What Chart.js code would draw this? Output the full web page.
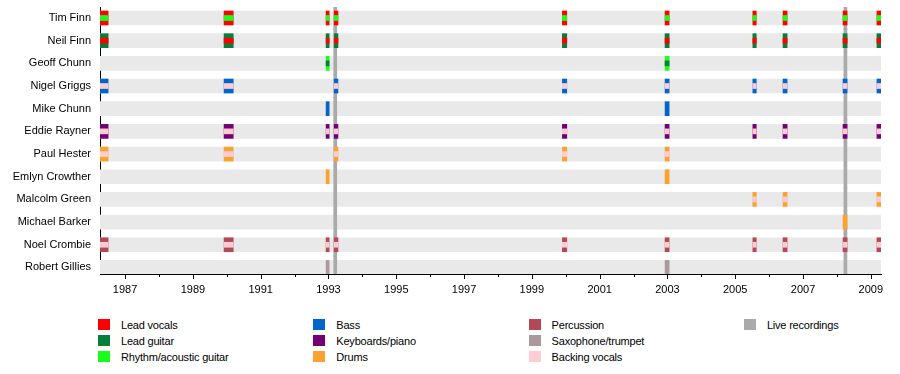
<!DOCTYPE html>
<html>
<head>
<meta charset="utf-8">
<script src="https://cdn.jsdelivr.net/npm/chart.js@4.4.0/dist/chart.umd.min.js"></script>
<style>
  body { margin: 0; background: #fff; font-family: "Liberation Sans", Arial, sans-serif; }
  #wrap { position: relative; width: 900px; height: 374px; }
  #legend .item { position: absolute; font-size: 11px; color: #000; height: 12px; line-height: 12px; white-space: nowrap; }
  #legend .swatch { position: absolute; left: 0; top: 0; width: 12px; height: 11px; }
  #legend .label { position: absolute; left: 23px; top: 0; letter-spacing: -0.2px; }
</style>
</head>
<body>
<div id="wrap">
  <canvas id="timeline" width="900" height="300"></canvas>
  <div id="legend"></div>
</div>
<script>
const members = ['Tim Finn', 'Neil Finn', 'Geoff Chunn', 'Nigel Griggs', 'Mike Chunn', 'Eddie Rayner',
  'Paul Hester', 'Emlyn Crowther', 'Malcolm Green', 'Michael Barker', 'Noel Crombie', 'Robert Gillies'];
const mainRole = ['Lead vocals', 'Lead guitar', 'Rhythm/acoustic guitar', 'Bass', 'Bass', 'Keyboards/piano',
  'Drums', 'Drums', 'Drums', 'Drums', 'Percussion', 'Saxophone/trumpet'];
const extraRole = ['Rhythm/acoustic guitar', 'Lead vocals', 'Lead guitar', 'Backing vocals', null, 'Backing vocals',
  'Backing vocals', null, 'Backing vocals', null, 'Backing vocals', null];

// reunion shows / tours
const periodStart = [1986.26, 1989.92, 1992.93, 1993.17, 1999.90, 2002.93, 2005.52, 2006.41, 2008.18, 2009.18];
const periodEnd   = [1986.50, 1990.19, 1993.02, 1993.28, 2000.03, 2003.05, 2005.62, 2006.53, 2008.30, 2009.30];
const lineups = [
  ['Tim Finn', 'Neil Finn', 'Nigel Griggs', 'Eddie Rayner', 'Paul Hester', 'Noel Crombie'],
  ['Tim Finn', 'Neil Finn', 'Nigel Griggs', 'Eddie Rayner', 'Paul Hester', 'Noel Crombie'],
  ['Tim Finn', 'Neil Finn', 'Geoff Chunn', 'Mike Chunn', 'Eddie Rayner', 'Emlyn Crowther', 'Noel Crombie', 'Robert Gillies'],
  ['Tim Finn', 'Neil Finn', 'Nigel Griggs', 'Eddie Rayner', 'Paul Hester', 'Noel Crombie'],
  ['Tim Finn', 'Neil Finn', 'Nigel Griggs', 'Eddie Rayner', 'Paul Hester', 'Noel Crombie'],
  ['Tim Finn', 'Neil Finn', 'Geoff Chunn', 'Nigel Griggs', 'Mike Chunn', 'Eddie Rayner', 'Paul Hester', 'Emlyn Crowther', 'Noel Crombie', 'Robert Gillies'],
  ['Tim Finn', 'Neil Finn', 'Nigel Griggs', 'Eddie Rayner', 'Malcolm Green', 'Noel Crombie'],
  ['Tim Finn', 'Neil Finn', 'Nigel Griggs', 'Eddie Rayner', 'Malcolm Green', 'Noel Crombie'],
  ['Tim Finn', 'Neil Finn', 'Nigel Griggs', 'Eddie Rayner', 'Michael Barker', 'Noel Crombie'],
  ['Tim Finn', 'Neil Finn', 'Nigel Griggs', 'Eddie Rayner', 'Malcolm Green', 'Noel Crombie']
];
const liveRecordings = [1993.2, 2008.25];
const timelineStart = 1986.26;
const timelineEnd = 2009.3;

const roles = ['Lead vocals', 'Lead guitar', 'Rhythm/acoustic guitar', 'Bass', 'Keyboards/piano', 'Drums',
  'Percussion', 'Saxophone/trumpet', 'Backing vocals', 'Live recordings'];
const roleColors = ['#ff0000', '#0a7c3c', '#1aff1a', '#0066cc', '#730073', '#f9a22d',
  '#b14a56', '#ab999c', '#ffccd4', '#aaaaaa'];

const colorOf = role => roleColors[roles.indexOf(role)];

const mainBars = [];
const extraBars = [];
lineups.forEach((lineup, p) => {
  lineup.forEach(name => {
    const i = members.indexOf(name);
    mainBars.push({ x: [periodStart[p], periodEnd[p]], y: i, role: mainRole[i] });
    if (extraRole[i]) {
      extraBars.push({ x: [periodStart[p], periodEnd[p]], y: i, role: extraRole[i] });
    }
  });
});
const bgBars = members.map((m, i) => ({ x: [timelineStart, timelineEnd], y: i }));
const liveBars = [];
liveRecordings.forEach(t => {
  members.forEach((m, i) => liveBars.push({ x: [t - 0.045, t + 0.045], y: i }));
});

Chart.defaults.font.family = '"Liberation Sans", Arial, sans-serif';
Chart.defaults.font.size = 11;
Chart.defaults.color = '#000';

// major ticks at labelled years are longer than the yearly minor ticks
const minorTicks = {
  id: 'minorTicks',
  afterDraw(chart) {
    const x = chart.scales.x;
    const c = chart.ctx;
    c.save();
    c.strokeStyle = '#000';
    c.lineWidth = 1;
    x.ticks.forEach(t => {
      const px = Math.round(x.getPixelForValue(t.value)) + 0.5;
      const major = Math.round(t.value) % 2 !== 0;
      c.beginPath();
      c.moveTo(px, x.top);
      c.lineTo(px, x.top + (major ? 5 : 3));
      c.stroke();
    });
    c.restore();
  }
};

const ctx = document.getElementById('timeline').getContext('2d');
new Chart(ctx, {
  type: 'bar',
  data: {
    datasets: [
      { label: 'extra', data: extraBars, barThickness: 5, order: 0, backgroundColor: c => colorOf(c.raw.role) },
      { label: 'main', data: mainBars, barThickness: 14, order: 1, backgroundColor: c => colorOf(c.raw.role) },
      { label: 'live', data: liveBars, barThickness: 23, order: 2, backgroundColor: colorOf('Live recordings'), clip: 0 },
      { label: 'bg', data: bgBars, barThickness: 14, order: 3, backgroundColor: '#e9e9e9' }
    ]
  },
  plugins: [minorTicks],
  options: {
    indexAxis: 'y',
    responsive: false,
    animation: false,
    datasets: { bar: { grouped: false, borderWidth: 0 } },
    layout: { padding: { top: 7, right: 19, left: 0, bottom: 0 } },
    plugins: { legend: { display: false }, tooltip: { enabled: false } },
    scales: {
      x: {
        type: 'linear',
        min: timelineStart,
        max: timelineEnd,
        beginAtZero: false,
        ticks: {
          stepSize: 1,
          includeBounds: false,
          autoSkip: false,
          maxRotation: 0,
          padding: 4,
          callback: v => (Math.round(v) % 2 ? String(Math.round(v)) : '')
        },
        grid: { drawOnChartArea: false, tickLength: 5, color: 'rgba(0,0,0,0)' },
        border: { color: '#000', width: 1 },
        afterFit: s => { s.height = 26; s.paddingLeft = 0; s.paddingRight = 0; }
      },
      y: {
        type: 'linear',
        reverse: true,
        offset: false,
        min: -0.485,
        max: 11.29,
        ticks: {
          stepSize: 1,
          includeBounds: false,
          autoSkip: false,
          padding: 9,
          callback: v => members[v] ?? ''
        },
        grid: { display: false, drawTicks: false, offset: false },
        border: { display: true, color: '#000', width: 1 },
        afterFit: s => { s.width = 100; s.paddingTop = 0; s.paddingBottom = 0; }
      }
    }
  }
});

// legend: 3 rows, filled column by column
const legend = document.getElementById('legend');
roles.forEach((role, k) => {
  const col = Math.floor(k / 3);
  const row = k % 3;
  const item = document.createElement('div');
  item.className = 'item';
  item.style.left = (98 + col * 215.3) + 'px';
  item.style.top = (319 + row * 16) + 'px';
  item.innerHTML = `<span class="swatch" style="background:${roleColors[k]}"></span><span class="label">${role}</span>`;
  legend.appendChild(item);
});
</script>
</body>
</html>
